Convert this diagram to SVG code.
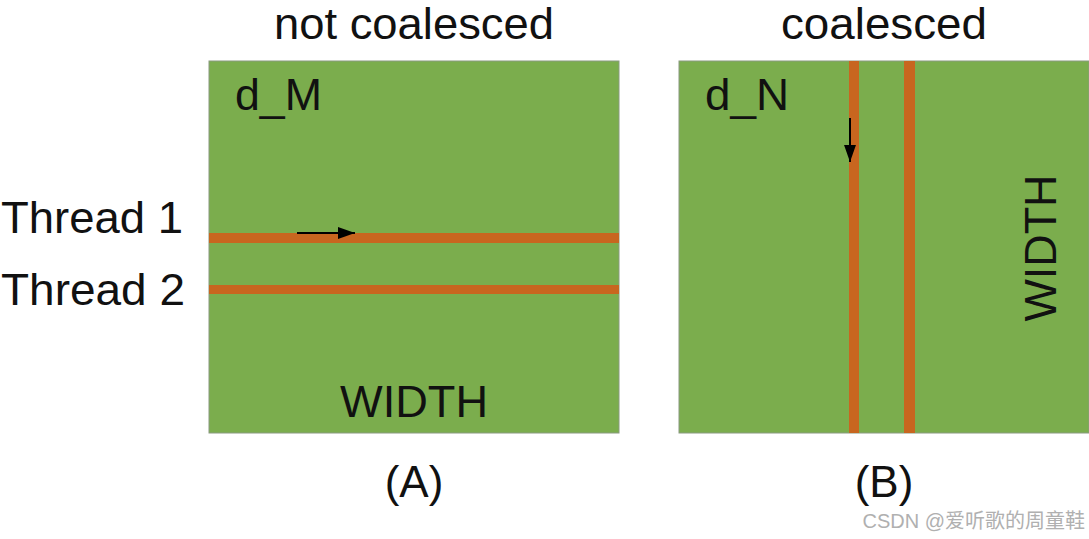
<svg xmlns="http://www.w3.org/2000/svg" width="1089" height="539" viewBox="0 0 1089 539">
<style>
.t{font-family:"Liberation Sans",Arial,sans-serif;fill:#111}
.panel{fill:#7bad4d;stroke:#8a9a80;stroke-width:1}
.stripe{fill:#c8661f}
</style>
<defs>
<marker id="ah2" viewBox="0 0 10 10" refX="10" refY="5" markerWidth="17" markerHeight="17" markerUnits="userSpaceOnUse" orient="auto"><path d="M0,1.5 L10,5 L0,8.5 Z" fill="#000"/></marker>
</defs>
<rect width="1089" height="539" fill="#fff"/>
<g id="panelA">
<text class="t" x="414" y="39" font-size="44" text-anchor="middle" textLength="280" lengthAdjust="spacingAndGlyphs">not coalesced</text>
<rect class="panel" x="209" y="61" width="410" height="372"/>
<rect class="stripe" x="209" y="233" width="410" height="10"/>
<rect class="stripe" x="209" y="285" width="410" height="9"/>
<text class="t" x="235" y="110" font-size="44" textLength="87" lengthAdjust="spacingAndGlyphs">d_M</text>
<text class="t" x="414" y="417" font-size="44" text-anchor="middle" textLength="148" lengthAdjust="spacingAndGlyphs">WIDTH</text>
<text class="t" x="414" y="497" font-size="44" text-anchor="middle">(A)</text>
</g>
<g id="threads">
<text class="t" x="1" y="233" font-size="44" textLength="182" lengthAdjust="spacingAndGlyphs">Thread 1</text>
<text class="t" x="1" y="305" font-size="44" textLength="184" lengthAdjust="spacingAndGlyphs">Thread 2</text>
</g>
<g id="panelB">
<text class="t" x="884" y="39" font-size="44" text-anchor="middle" textLength="206" lengthAdjust="spacingAndGlyphs">coalesced</text>
<rect class="panel" x="679" y="61" width="410" height="372"/>
<rect class="stripe" x="849" y="61" width="10" height="372"/>
<rect class="stripe" x="904" y="61" width="11" height="372"/>
<text class="t" x="705" y="110" font-size="44" textLength="84" lengthAdjust="spacingAndGlyphs">d_N</text>
<text class="t" transform="translate(1056,248) rotate(-90)" font-size="44" text-anchor="middle" textLength="147" lengthAdjust="spacingAndGlyphs">WIDTH</text>
<text class="t" x="884" y="497" font-size="44" text-anchor="middle">(B)</text>
</g>
<g id="connectors">
<line x1="297" y1="233" x2="355" y2="233" stroke="#000" stroke-width="2" marker-end="url(#ah2)"/>
<line x1="850" y1="118" x2="850" y2="162" stroke="#000" stroke-width="2" marker-end="url(#ah2)"/>
</g>
<text x="1085" y="528" font-family="'Liberation Sans','Noto Sans CJK SC',sans-serif" font-size="20" fill="#b0b0b0" text-anchor="end">CSDN @爱听歌的周童鞋</text>
</svg>
